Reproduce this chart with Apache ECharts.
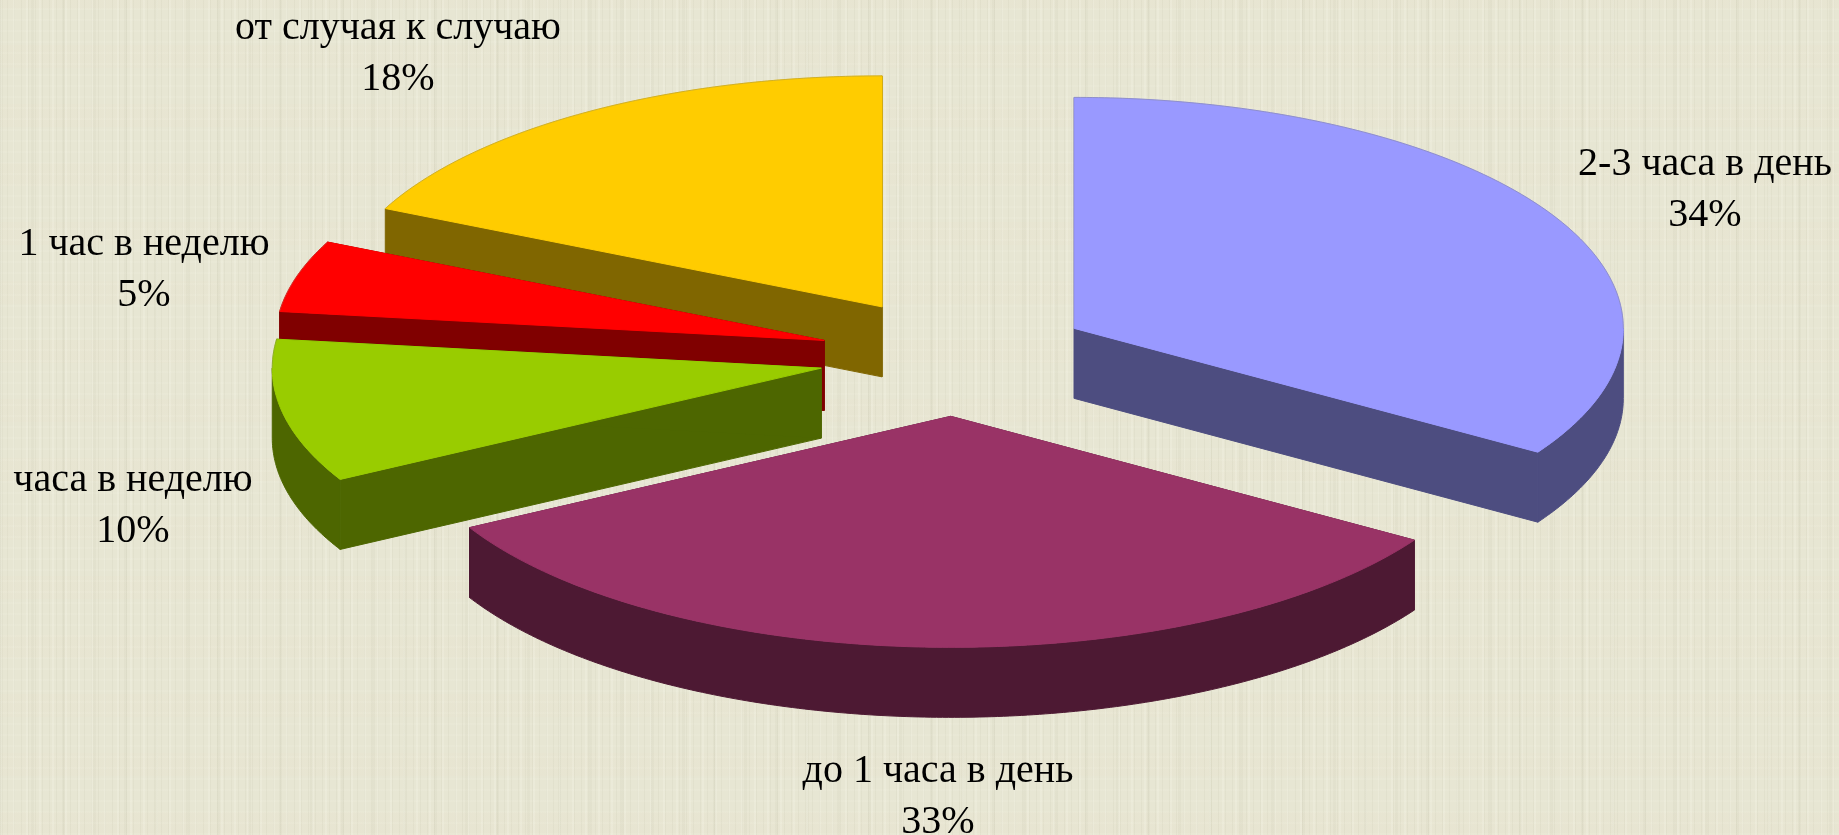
<!DOCTYPE html>
<html>
<head>
<meta charset="utf-8">
<title>pie</title>
<script src="https://cdn.jsdelivr.net/npm/echarts@6/dist/echarts.min.js"></script>
<style>
html, body { margin: 0; height: 100%; overflow: hidden; }
body {
  background-color: #e7e6d3;
  background-image:
    repeating-linear-gradient(90deg, rgba(150,150,120,0.07) 0 1px, rgba(255,255,245,0) 1px 7px),
    repeating-linear-gradient(90deg, rgba(255,255,245,0.16) 0 2px, rgba(255,255,245,0) 2px 13px),
    repeating-linear-gradient(90deg, rgba(150,150,120,0.06) 0 3px, rgba(255,255,245,0) 3px 31px),
    repeating-linear-gradient(0deg, rgba(255,255,245,0.07) 0 2px, rgba(255,255,245,0) 2px 11px),
    repeating-linear-gradient(0deg, rgba(240,215,190,0.06) 0 23px, rgba(255,255,245,0) 23px 59px);
}
#chart { width: 1839px; height: 835px; }
</style>
</head>
<body>
<div id="chart"></div>
<script>
// slices, clockwise from 12 o'clock
const categories = ['2-3 часа в день', 'до 1 часа в день', 'часа в неделю', '1 час в неделю', 'от случая к случаю']
const shares = [34, 33, 10, 5, 18]
const topColors = ['#9999ff', '#993366', '#99cc00', '#ff0000', '#ffcc00']
const sideColors = ['#4d4d80', '#4d1933', '#4d6600', '#800000', '#806600']
// back to front
const drawOrder = [4, 3, 2, 0, 1]
// label centres, px
const labelPos = [[1705, 190], [938, 797], [133, 506], [144, 270], [398, 54]]

// the axes are in pie radii, so the tilted circle is just different x/y ranges
const CX = 955, CY = 357, RX = 549, RY = 231
const WIDTH = 1839, HEIGHT = 835
const DEPTH = 70 / RY
const EXPLODE_X = 0.248
const EXPLODE_Y = 0.257

const total = shares.reduce((a, b) => a + b, 0)

function rad (share) {
  return share / total * Math.PI * 2
}

function renderSlice (params, api) {
  const i = api.value(0)
  const before = shares.slice(0, i).reduce((a, b) => a + b, 0)
  const a0 = rad(before)
  const a1 = rad(before + shares[i])
  const mid = (a0 + a1) / 2
  const ox = EXPLODE_X * Math.sin(mid)
  const oy = EXPLODE_Y * Math.cos(mid)

  const pt = (t, drop) => api.coord([ox + Math.sin(t), oy + Math.cos(t) - drop])
  const apex = drop => api.coord([ox, oy - drop])
  const arc = (from, to, drop) => {
    const out = []
    const n = Math.max(2, Math.ceil((to - from) * 90))
    for (let k = 0; k <= n; k++) out.push(pt(from + (to - from) * k / n, drop))
    return out
  }
  const poly = (points, fill) => ({
    type: 'polygon',
    shape: { points: points },
    style: { fill: fill, stroke: fill, lineWidth: 1 }
  })
  const edge = (from, to) => ({
    type: 'polyline',
    shape: { points: arc(from, to, 0) },
    style: { fill: null, stroke: 'rgba(120,120,105,0.35)', lineWidth: 1 }
  })

  const side = sideColors[i]
  const children = [
    poly([apex(0), pt(a0, 0), pt(a0, DEPTH), apex(DEPTH)], side),
    poly([apex(0), pt(a1, 0), pt(a1, DEPTH), apex(DEPTH)], side)
  ]
  // outer rim only shows on the front half
  const r0 = Math.max(a0, Math.PI / 2)
  const r1 = Math.min(a1, Math.PI * 1.5)
  if (r1 > r0) {
    children.push(poly(arc(r0, r1, 0).concat(arc(r0, r1, DEPTH).reverse()), side))
  }
  children.push(poly([apex(0)].concat(arc(a0, a1, 0)), topColors[i]))
  // thin grey edge where the top face meets the background
  if (a0 < Math.PI / 2) children.push(edge(a0, Math.min(a1, Math.PI / 2)))
  if (a1 > Math.PI * 1.5) children.push(edge(Math.max(a0, Math.PI * 1.5), a1))
  return { type: 'group', children: children }
}

function renderLabel (params, api) {
  const i = api.value(0)
  return {
    type: 'text',
    style: {
      text: categories[i] + '\n' + Math.round(shares[i] / total * 100) + '%',
      x: labelPos[i][0],
      y: labelPos[i][1],
      align: 'center',
      verticalAlign: 'middle',
      lineHeight: 51,
      font: '40px "Liberation Serif"',
      fill: '#000000'
    }
  }
}

const chart = echarts.init(document.getElementById('chart'))
chart.setOption({
  animation: false,
  grid: { left: 0, right: 0, top: 0, bottom: 0 },
  xAxis: { type: 'value', show: false, min: -CX / RX, max: (WIDTH - CX) / RX },
  yAxis: { type: 'value', show: false, min: -(HEIGHT - CY) / RY, max: CY / RY },
  series: [
    {
      type: 'custom',
      coordinateSystem: 'cartesian2d',
      clip: false,
      renderItem: renderSlice,
      encode: { x: 0, y: 0 },
      data: drawOrder.map(i => [i])
    },
    {
      type: 'custom',
      coordinateSystem: 'cartesian2d',
      clip: false,
      renderItem: renderLabel,
      encode: { x: 0, y: 0 },
      data: categories.map((c, i) => [i])
    }
  ]
})
</script>
</body>
</html>
